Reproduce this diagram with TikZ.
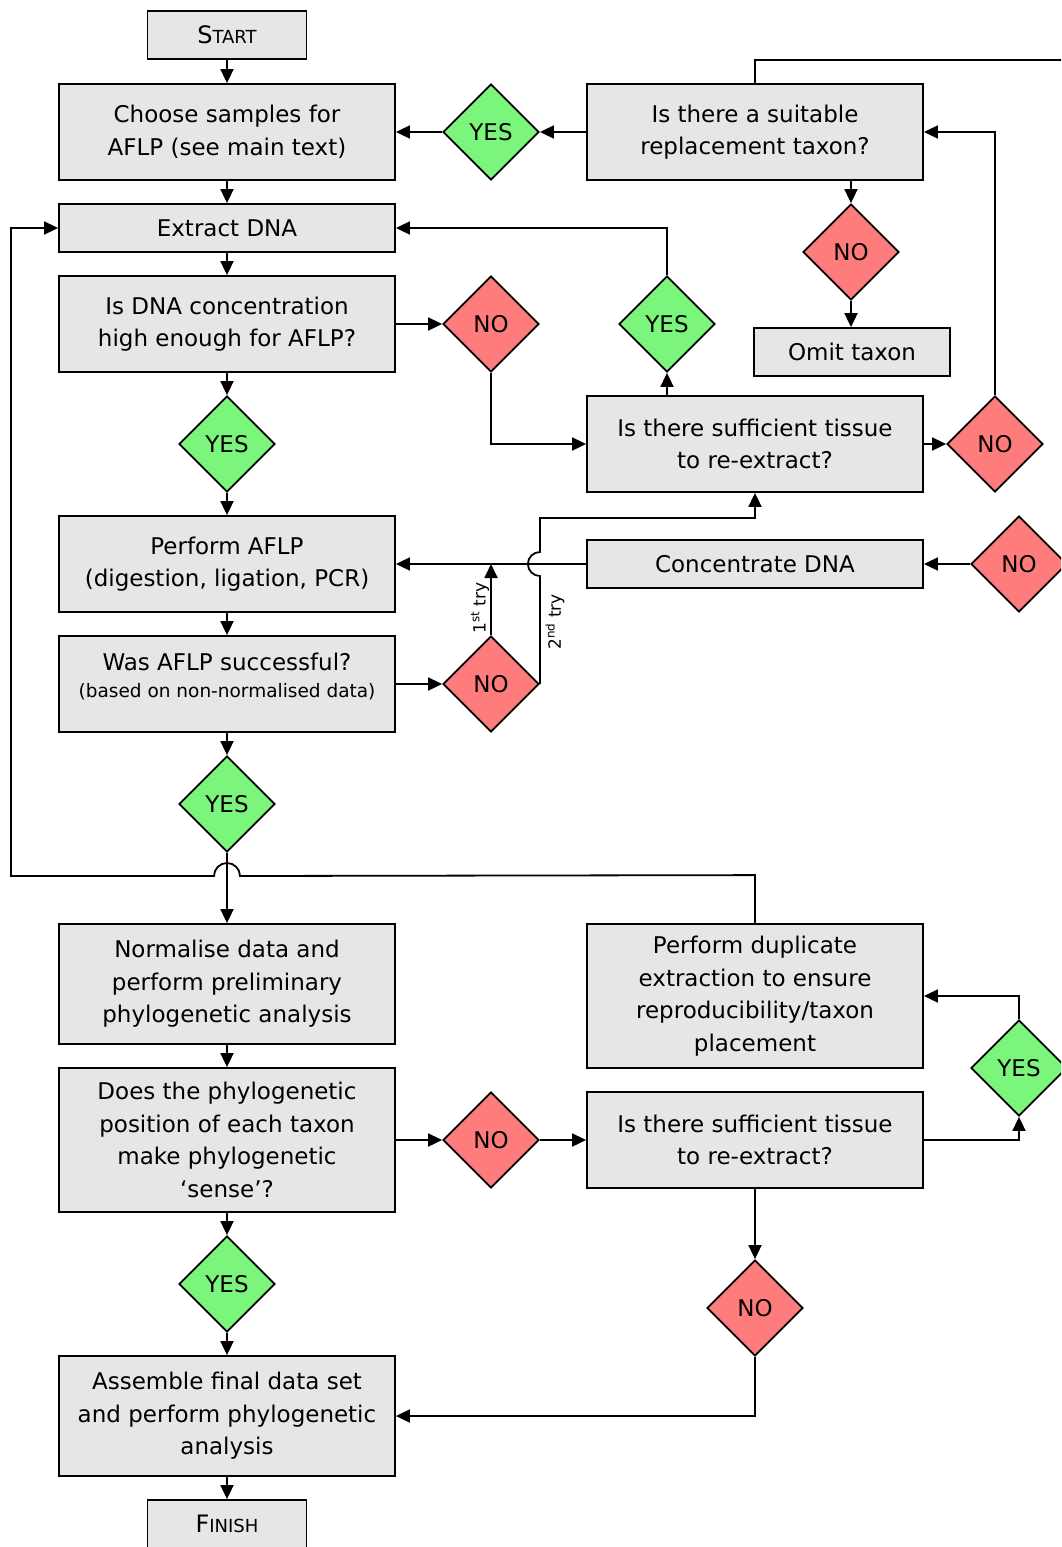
\documentclass[tikz,border=0pt]{standalone}
\usepackage{fontspec}
\setmainfont{DejaVu Sans}
\usetikzlibrary{shapes.geometric,arrows.meta}
\definecolor{boxgray}{HTML}{E6E6E6}
\definecolor{nored}{HTML}{FF7C7C}
\definecolor{yesgreen}{HTML}{7CF57C}
\begin{document}
\begin{tikzpicture}[x=1pt,y=1pt,
  every node/.style={font=\fontsize{23}{32.5}\selectfont},
  box/.style={draw=black, line width=1.8pt, fill=boxgray, rectangle, align=center, inner sep=3pt, minimum width=336pt},
  dec/.style={draw=black, line width=1.8pt, diamond, minimum width=96pt, minimum height=96pt, inner sep=0pt},
  nod/.style={dec, fill=nored},
  yesd/.style={dec, fill=yesgreen},
  arr/.style={line width=1.8pt, -{Triangle[length=14pt,width=13pt]}},
  ln/.style={line width=1.8pt},
  lab/.style={font=\fontsize{17}{20}\selectfont, rotate=90, inner sep=0pt}
]
\clip (0,0) rectangle (1061,-1547);
\useasboundingbox (0,0) rectangle (1061,-1547);
\fill[white] (0,0) rectangle (1061,-1547);

% left column
\node[box, minimum width=159pt, minimum height=48pt] (start) at (227,-35) {{\fontsize{24}{26}\selectfont S}{\fontsize{18}{20}\selectfont TART}};
\node[box, minimum height=96pt] (choose) at (227,-132) {Choose samples for\\AFLP (see main text)};
\node[box, minimum height=48pt] (extract) at (227,-228) {Extract DNA};
\node[box, minimum height=96pt] (conc) at (227,-324) {Is DNA concentration\\high enough for AFLP?};
\node[yesd] (yes1) at (227,-444) {YES};
\node[box, minimum height=96pt] (aflp) at (227,-564) {Perform AFLP\\(digestion, ligation, PCR)};
\node[box, minimum height=96pt] (succ) at (227,-684) {};
\node at (227,-662) {Was AFLP successful?};
\node[font=\fontsize{18.5}{22}\selectfont] (succsub) at (227,-692) {(based on non-normalised data)};
\node[yesd] (yes2) at (227,-804) {YES};
\node[box, minimum height=120pt] (norm) at (227,-984) {Normalise data and\\perform preliminary\\phylogenetic analysis};
\node[box, minimum height=144pt] (phylo) at (227,-1140) {Does the phylogenetic\\position of each taxon\\make phylogenetic\\‘sense’?};
\node[yesd] (yes3) at (227,-1284) {YES};
\node[box, minimum height=120pt] (assemble) at (227,-1416) {Assemble final data set\\and perform phylogenetic\\analysis};
\node[box, minimum width=159pt, minimum height=48pt] (finish) at (227,-1524) {{\fontsize{24}{26}\selectfont F}{\fontsize{18}{20}\selectfont INISH}};

% right part
\node[box, minimum height=96pt] (repl) at (755,-132) {Is there a suitable\\replacement taxon?};
\node[yesd] (yesR) at (491,-132) {YES};
\node[nod] (noR) at (851,-252) {NO};
\node[box, minimum width=196pt, minimum height=48pt] (omit) at (852,-352) {Omit taxon};
\node[nod] (noC) at (491,-324) {NO};
\node[yesd] (yesT) at (667,-324) {YES};
\node[box, minimum height=96pt] (tissue) at (755,-444) {Is there sufficient tissue\\to re-extract?};
\node[nod] (noT) at (995,-444) {NO};
\node[box, minimum height=48pt] (concDNA) at (755,-564) {Concentrate DNA};
\node[nod] (noCD) at (1019,-564) {NO};
\node[nod] (noA) at (491,-684) {NO};
\node[box, minimum height=144pt] (dup) at (755,-996) {Perform duplicate\\extraction to ensure\\reproducibility/taxon\\placement};
\node[box, minimum height=96pt] (tissue2) at (755,-1140) {Is there sufficient tissue\\to re-extract?};
\node[nod] (noP) at (491,-1140) {NO};
\node[yesd] (yesD) at (1019,-1068) {YES};
\node[nod] (noT2) at (755,-1308) {NO};

\coordinate (topR) at (1075,-60);

% main column arrows
\draw[arr] (start) -- (choose);
\draw[arr] (choose) -- (extract);
\draw[arr] (extract) -- (conc);
\draw[arr] (conc) -- (yes1);
\draw[arr] (yes1) -- (aflp);
\draw[arr] (aflp) -- (succ);
\draw[arr] (succ) -- (yes2);
\draw[arr] (yes2) -- (norm);
\draw[arr] (norm) -- (phylo);
\draw[arr] (phylo) -- (yes3);
\draw[arr] (yes3) -- (assemble);
\draw[arr] (assemble) -- (finish);

% top right
\draw[arr] (repl.west) -- (yesR.east);
\draw[arr] (yesR.west) -- (choose.east);
\draw[arr] (noR.north |- repl.south) -- (noR.north);
\draw[arr] (noR.south) -- (noR.south |- omit.north);
\draw[ln] (repl.north) |- (topR);

% DNA concentration branch
\draw[arr] (conc.east) -- (noC.west);
\draw[arr] (noC.south) |- (tissue.west);
\draw[arr] (yesT.south |- tissue.north) -- (yesT.south);
\draw[arr] (yesT.north) |- (extract.east);
\draw[arr] (tissue.east) -- (noT.west);
\draw[arr] (noT.north) |- (repl.east);

% AFLP success branch
\draw[arr] (succ.east) -- (noA.west);
\draw[arr] (noA.north) -- (noA.north |- aflp.east);
\draw[arr] (concDNA.west) -- (aflp.east);
\draw[arr] (noA.east) -- ++(0,108) arc[start angle=270,end angle=90,radius=12] -- ++(0,34) -| (tissue.south);
\draw[arr] (noCD.west) -- (concDNA.east);
\node[lab] (try1) at (480,-608) {1\textsuperscript{st} try};
\node[lab] (try2) at (555,-622) {2\textsuperscript{nd} try};

% loop back to extract
\draw[arr] (dup.north) -- ++(0,48) -- (240,-876) arc[start angle=0,end angle=180,radius=13] -- (11,-876) |- (extract.west);

% phylogenetic sense branch
\draw[arr] (phylo.east) -- (noP.west);
\draw[arr] (noP.east) -- (tissue2.west);
\draw[arr] (tissue2.east) -| (yesD.south);
\draw[arr] (yesD.north) |- (dup.east);
\draw[arr] (tissue2.south) -- (noT2.north);
\draw[arr] (noT2.south) |- (assemble.east);
\end{tikzpicture}
\end{document}
